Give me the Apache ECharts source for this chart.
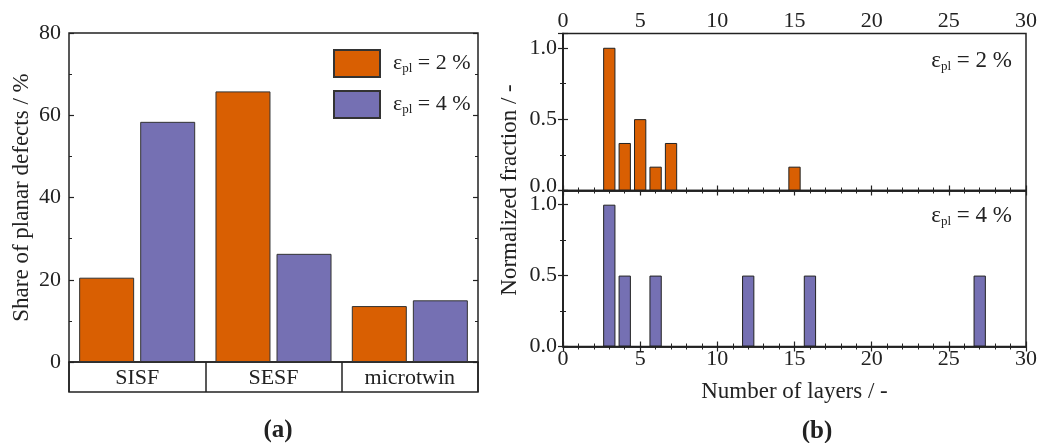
<!DOCTYPE html>
<html>
<head>
<meta charset="utf-8">
<script src="https://cdn.jsdelivr.net/npm/echarts@6/dist/echarts.min.js"></script>
<style>
html, body { margin: 0; padding: 0; background: #fff; }
#main { width: 1041px; height: 443px; }
</style>
</head>
<body>
<div id="main"></div>
<script>
// panel (a)
var defectTypes = ['SISF', 'SESF', 'microtwin'];
var share2 = [20.5, 65.8, 13.6];
var share4 = [58.4, 26.3, 15.0];
// panel (b)
var layers2 = [3, 4, 5, 6, 7, 15];
var frac2 = [1.0, 0.333, 0.5, 0.167, 0.333, 0.167];
var layers4 = [3, 4, 6, 12, 16, 27];
var frac4 = [1.0, 0.5, 0.5, 0.5, 0.5, 0.5];

var orange = '#D95F02';
var purple = '#7570B3';
var ink = '#222';
var font = 'Liberation Serif';
var fs = 22;     // tick labels
var fsName = 23; // axis names

function pairs(xs, ys) {
    var out = [];
    for (var i = 0; i < xs.length; i++) out.push([xs[i], ys[i]]);
    return out;
}

function epsRich(size) {
    return {
        e: { fontFamily: font, fontSize: size, fontWeight: 'normal', color: ink },
        s: { fontFamily: font, fontSize: Math.round(size * 0.58), fontWeight: 'normal', color: ink, padding: [Math.round(size * 0.48), 0, 0, 0] }
    };
}

var line = { lineStyle: { color: ink, width: 1.5 } };
var tick = { show: true, inside: true, length: 5, lineStyle: { color: ink, width: 1.2 } };
var minor = function (n) { return { show: true, splitNumber: n, length: 3, lineStyle: { color: ink, width: 1 } }; };
var lab = { fontFamily: font, fontSize: fs, color: ink };
var nameStyle = { fontFamily: font, fontSize: fsName, color: ink };
// top panel: lift the 0.0 label a bit so it clears the 1.0 of the lower panel
var fracFmtTop = function (v) {
    if (v > 1.05) return '';
    return v == 0 ? '{up|0.0}' : v.toFixed(1);
};
var fracFmt = function (v) { return v > 1.05 ? '' : v.toFixed(1); };

var myChart = echarts.init(document.getElementById('main'));

var option = {
    animation: false,
    backgroundColor: '#fff',
    textStyle: { fontFamily: font },
    grid: [
        { left: 69, width: 409, top: 33, height: 329, show: true, borderColor: ink, borderWidth: 1.5 },
        { left: 69, width: 409, top: 362, height: 30, show: true, borderColor: ink, borderWidth: 1.5 },
        { left: 563, width: 463, top: 33.5, height: 157, show: true, borderColor: ink, borderWidth: 1.5 },
        { left: 563, width: 463, top: 190.5, height: 156, show: true, borderColor: ink, borderWidth: 1.5 }
    ],
    legend: {
        data: ['e2', 'e4'],
        orient: 'vertical',
        left: 328, top: 44,
        itemWidth: 46, itemHeight: 27, itemGap: 12,
        icon: 'rect',
        formatter: function (n) {
            return n == 'e2' ? '{e|ε}{s|pl}{e| = 2 %}' : '{e|ε}{s|pl}{e| = 4 %}';
        },
        textStyle: { padding: [0, 0, 0, 8], rich: epsRich(22) }
    },
    title: [
        { text: '{e|ε}{s|pl}{e| = 2 %}', right: 24, top: 44, textStyle: { rich: epsRich(fsName) } },
        { text: '{e|ε}{s|pl}{e| = 4 %}', right: 24, top: 199, textStyle: { rich: epsRich(fsName) } },
        { text: '(a)', left: 273, top: 413, textAlign: 'center', textStyle: { fontFamily: font, fontSize: 25, fontWeight: 'bold', color: ink } },
        { text: '(b)', left: 812, top: 414, textAlign: 'center', textStyle: { fontFamily: font, fontSize: 25, fontWeight: 'bold', color: ink } }
    ],
    graphic: [{
        type: 'text', x: 510, y: 190, rotation: Math.PI / 2,
        style: { text: 'Normalized fraction / -', font: fsName + 'px "' + font + '"', fill: ink, align: 'center', verticalAlign: 'middle' }
    }],
    xAxis: [
        { gridIndex: 0, type: 'category', data: defectTypes, axisLine: { show: false }, axisTick: { show: false }, axisLabel: { show: false } },
        { gridIndex: 1, type: 'category', data: defectTypes, position: 'top', axisLine: { show: false }, axisTick: { show: false },
          axisLabel: Object.assign({ inside: true, margin: 5 }, lab),
          splitLine: { show: true, lineStyle: { color: ink, width: 1.5 } } },
        { gridIndex: 2, type: 'value', min: 0, max: 30, interval: 5, position: 'top', axisLine: line, axisTick: tick, minorTick: minor(5),
          axisLabel: Object.assign({ margin: 1 }, lab), splitLine: { show: false } },
        { gridIndex: 2, type: 'value', min: 0, max: 30, interval: 5, position: 'bottom', axisLine: line, axisTick: tick, minorTick: minor(5),
          axisLabel: { show: false }, splitLine: { show: false } },
        { gridIndex: 3, type: 'value', min: 0, max: 30, interval: 5, position: 'bottom', axisLine: line, axisTick: tick, minorTick: minor(5),
          axisLabel: Object.assign({ margin: 2 }, lab), splitLine: { show: false },
          name: 'Number of layers / -', nameLocation: 'middle', nameGap: 34, nameTextStyle: nameStyle },
        { gridIndex: 3, type: 'value', min: 0, max: 30, interval: 5, position: 'top', axisLine: line, axisTick: tick, minorTick: minor(5),
          axisLabel: { show: false }, splitLine: { show: false } }
    ],
    yAxis: [
        { gridIndex: 0, type: 'value', min: 0, max: 80, interval: 20, axisLine: line, axisTick: tick, minorTick: minor(2),
          axisLabel: Object.assign({ margin: 8 }, lab), splitLine: { show: false },
          name: 'Share of planar defects / %', nameLocation: 'middle', nameGap: 36, nameTextStyle: nameStyle },
        { gridIndex: 0, type: 'value', min: 0, max: 80, interval: 20, position: 'right', axisLine: line, axisTick: tick, minorTick: minor(2),
          axisLabel: { show: false }, splitLine: { show: false } },
        { gridIndex: 1, type: 'value', show: false },
        { gridIndex: 2, type: 'value', min: 0, max: 1.1, interval: 0.5, axisLine: line, axisTick: tick, minorTick: minor(2),
          axisLabel: Object.assign({ margin: 6, formatter: fracFmtTop, rich: { up: { fontFamily: font, fontSize: fs, color: ink, padding: [0, 0, 9, 0] } } }, lab),
          splitLine: { show: false } },
        { gridIndex: 2, type: 'value', min: 0, max: 1.1, interval: 0.5, position: 'right', axisLine: line, axisTick: tick, minorTick: minor(2),
          axisLabel: { show: false }, splitLine: { show: false } },
        { gridIndex: 3, type: 'value', min: 0, max: 1.1, interval: 0.5, axisLine: line, axisTick: tick, minorTick: minor(2),
          axisLabel: Object.assign({ margin: 6, formatter: fracFmt }, lab), splitLine: { show: false } },
        { gridIndex: 3, type: 'value', min: 0, max: 1.1, interval: 0.5, position: 'right', axisLine: line, axisTick: tick, minorTick: minor(2),
          axisLabel: { show: false }, splitLine: { show: false } }
    ],
    series: [
        { name: 'e2', type: 'bar', xAxisIndex: 0, yAxisIndex: 0, data: share2, barWidth: 55, barGap: '11%',
          itemStyle: { color: orange, borderColor: '#333', borderWidth: 1 } },
        { name: 'e4', type: 'bar', xAxisIndex: 0, yAxisIndex: 0, data: share4, barWidth: 55, barGap: '11%',
          itemStyle: { color: purple, borderColor: '#333', borderWidth: 1 } },
        { name: 'b2', type: 'bar', xAxisIndex: 2, yAxisIndex: 3, data: pairs(layers2, frac2), barWidth: 12.3,
          itemStyle: { color: orange, borderColor: '#222', borderWidth: 1 } },
        { name: 'b4', type: 'bar', xAxisIndex: 4, yAxisIndex: 5, data: pairs(layers4, frac4), barWidth: 12.3,
          itemStyle: { color: purple, borderColor: '#222', borderWidth: 1 } }
    ]
};

myChart.setOption(option);
</script>
</body>
</html>
